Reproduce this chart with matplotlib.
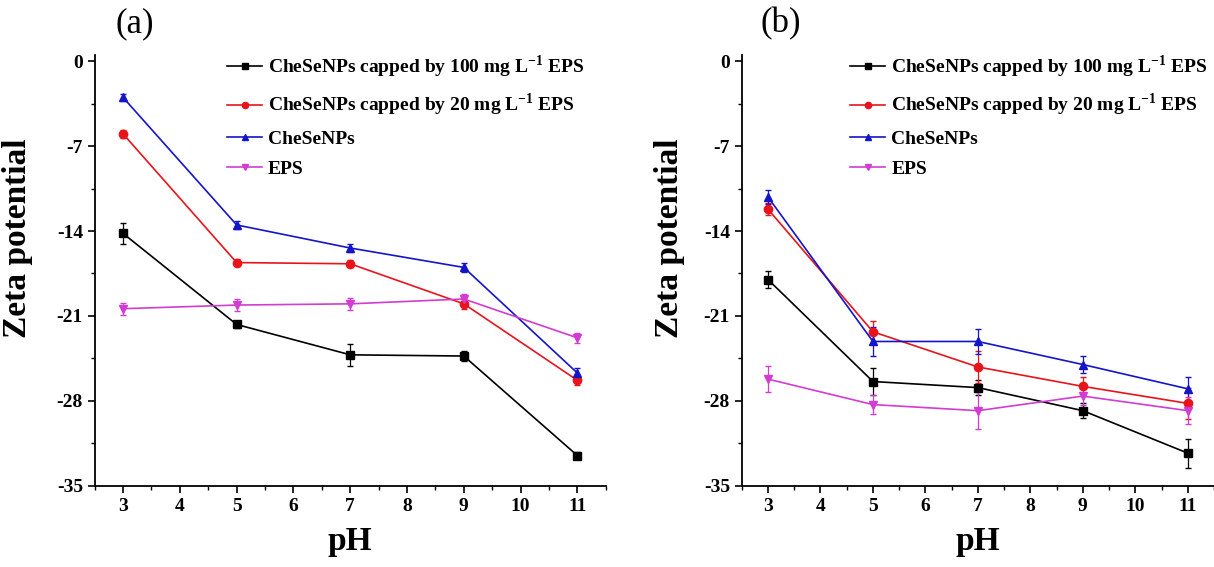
import numpy as np
import matplotlib.pyplot as plt
from matplotlib.ticker import MultipleLocator

plt.rcParams['font.family'] = ['Liberation Serif', 'DejaVu Serif']
plt.rcParams['mathtext.fontset'] = 'custom'
plt.rcParams['mathtext.rm'] = 'Liberation Serif:bold'
plt.rcParams['mathtext.bf'] = 'Liberation Serif:bold'
plt.rcParams['axes.unicode_minus'] = False

ph = [3, 5, 7, 9, 11]
labels = [r'CheSeNPs capped by 100 mg L$^{-1}$ EPS',
          r'CheSeNPs capped by 20 mg L$^{-1}$ EPS',
          'CheSeNPs', 'EPS']

# panel (a)
a_100 = [-14.2, -21.7, -24.2, -24.3, -32.5]
a_20 = [-6.0, -16.6, -16.7, -20.0, -26.3]
a_np = [-3.0, -13.5, -15.4, -17.0, -25.7]
a_eps = [-20.4, -20.1, -20.0, -19.6, -22.8]
a_err_100 = [0.9, 0.3, 0.9, 0.4, 0.3]
a_err_20 = [0.3, 0.3, 0.3, 0.4, 0.4]
a_err_np = [0.3, 0.3, 0.3, 0.4, 0.4]
a_err_eps = [0.5, 0.5, 0.5, 0.4, 0.4]

# panel (b)
b_100 = [-18.0, -26.4, -26.9, -28.8, -32.3]
b_20 = [-12.2, -22.3, -25.2, -26.8, -28.2]
b_np = [-11.2, -23.1, -23.1, -25.0, -27.0]
b_eps = [-26.2, -28.3, -28.8, -27.6, -28.8]
b_err_100 = [0.7, 1.1, 0.6, 0.6, 1.2]
b_err_20 = [0.5, 0.9, 1.3, 0.8, 1.3]
b_err_np = [0.6, 1.2, 1.0, 0.7, 1.0]
b_err_eps = [1.1, 0.8, 1.5, 0.7, 1.1]

colors = ['black', '#e8141b', '#1414c8', '#d23cd2']
markers = ['s', 'o', '^', 'v']

fig = plt.figure(figsize=(12.14, 5.67), dpi=100)
ax1 = fig.add_axes([0.078, 0.143, 0.421, 0.76])
ax2 = fig.add_axes([0.611, 0.143, 0.389, 0.76])

panels = [
    (ax1, [a_100, a_20, a_np, a_eps], [a_err_100, a_err_20, a_err_np, a_err_eps],
     '(a)', 0.225),
    (ax2, [b_100, b_20, b_np, b_eps], [b_err_100, b_err_20, b_err_np, b_err_eps],
     '(b)', 0.193),
]

for ax, series, errs, tag, legx in panels:
    for ys, es, c, m, lab in zip(series, errs, colors, markers, labels):
        ax.errorbar(ph, ys, yerr=es, color=c, marker=m, markersize=6,
                    linewidth=1.2, elinewidth=0.9, capsize=2.5)
        # proxy for the legend (plain line + small marker)
        ax.plot([], [], color=c, marker=m, markersize=4.5, linewidth=1.2, label=lab)
    ax.set_xlim(2.5, 11.5)
    ax.set_ylim(-35, 0.5)
    ax.set_xticks(range(3, 12))
    ax.set_yticks([0, -7, -14, -21, -28, -35])
    ax.xaxis.set_minor_locator(MultipleLocator(0.5))
    ax.yaxis.set_minor_locator(MultipleLocator(3.5))
    ax.spines['top'].set_visible(False)
    ax.spines['right'].set_visible(False)
    ax.spines['left'].set_linewidth(1.3)
    ax.spines['bottom'].set_linewidth(1.3)
    ax.tick_params(which='major', length=5, width=1.2, labelsize=14)
    ax.tick_params(which='minor', length=3, width=1.0)
    for t in ax.get_xticklabels() + ax.get_yticklabels():
        t.set_fontweight('bold')
    ax.set_xlabel('pH', fontsize=24, fontweight='bold', labelpad=8)
    ax.set_ylabel('Zeta potential', fontsize=24, fontweight='bold')
    ax.yaxis.set_label_coords(-0.12, 0.575)
    ax.text(0.04, 1.035, tag, transform=ax.transAxes, fontsize=25, va='bottom')
    ax.legend(loc='upper left', bbox_to_anchor=(legx, 1.045), frameon=False,
              handlelength=1.8, handletextpad=0.3, labelspacing=0.62,
              prop={'weight': 'bold', 'size': 14})

fig.savefig('out.png', dpi=100)
